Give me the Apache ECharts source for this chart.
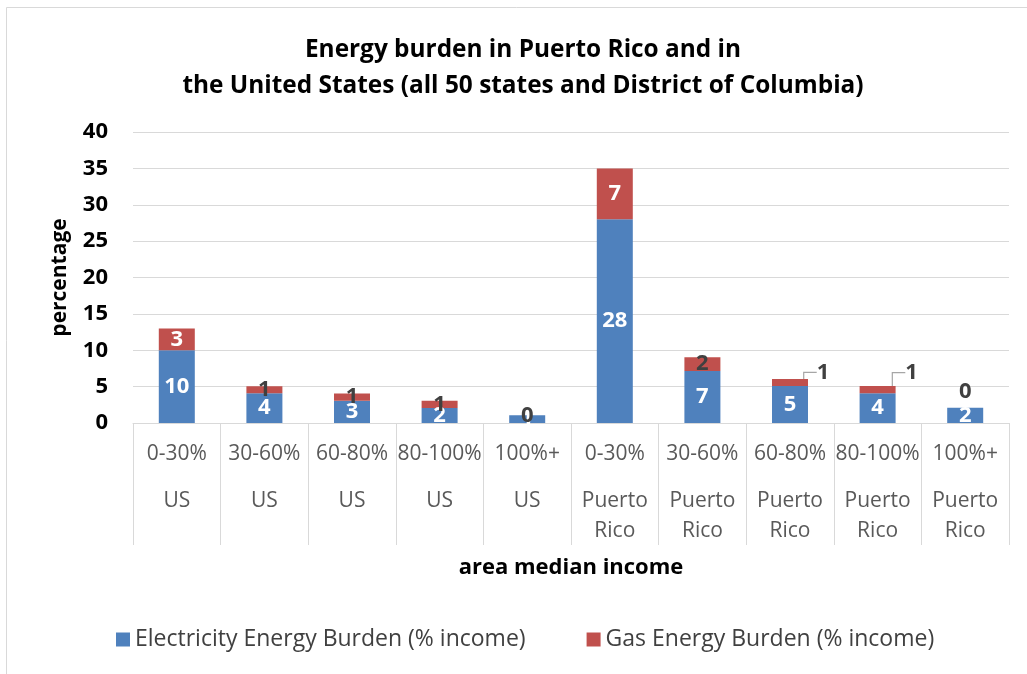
<!DOCTYPE html>
<html>
<head>
<meta charset="utf-8">
<script src="https://cdn.jsdelivr.net/npm/echarts@6/dist/echarts.min.js"></script>
<style>
html,body{margin:0;padding:0;background:#fff;}
#chart{width:1027px;height:674px;}
</style>
</head>
<body>
<div id="chart"></div>
<script>
// ---- data ----
const incomeBands = ['0-30%', '30-60%', '60-80%', '80-100%', '100%+', '0-30%', '30-60%', '60-80%', '80-100%', '100%+'];
const regions = ['US', 'US', 'US', 'US', 'US', 'Puerto Rico', 'Puerto Rico', 'Puerto Rico', 'Puerto Rico', 'Puerto Rico'];
const electricity = [10.0, 4.1, 3.05, 2.05, 1.05, 28.0, 7.15, 5.1, 4.1, 2.1];
const gas = [3.0, 0.95, 1.0, 1.0, 0.0, 7.0, 1.9, 0.95, 1.0, 0.0];
const seriesNames = ['Electricity Energy Burden (% income)', 'Gas Energy Burden (% income)'];
const yTicks = { min: 0, max: 40, interval: 5 };
const titleText = 'Energy burden in Puerto Rico and in\nthe United States (all 50 states and District of Columbia)';

const categories = incomeBands.map((b, i) => b + '|' + regions[i]);
const FONT = '"Open Sans", sans-serif';
const BLUE = '#4F81BD', RED = '#C0504D';

const chart = echarts.init(document.getElementById('chart'), null, { renderer: 'canvas' });

const gasData = gas.map((v, i) => {
  const item = { value: v };
  const whiteInside = v >= 2.5;
  item.label = { color: whiteInside ? '#ffffff' : '#404040' };
  if (i === 9) {
    item.label.position = 'top';
    item.label.offset = [11, 0];
  }
  if (i === 7 || i === 8) {
    item.labelLine = { show: true, length2: 13, lineStyle: { color: '#a6a6a6', width: 1.2 } };
  }
  return item;
});

chart.setOption({
  animation: false,
  backgroundColor: '#ffffff',
  title: {
    text: titleText,
    left: 518,
    top: 27,
    textAlign: 'center',
    textStyle: { fontFamily: FONT, fontSize: 24.4, fontWeight: 'bold', color: '#000000', lineHeight: 36 }
  },
  legend: {
    left: 111,
    top: 623,
    icon: 'rect',
    itemWidth: 14,
    itemHeight: 14,
    itemGap: 61,
    textStyle: { fontFamily: FONT, fontSize: 23, color: '#404040' },
    data: seriesNames
  },
  grid: { left: 133, right: 18, top: 132, bottom: 251, containLabel: false },
  xAxis: {
    type: 'category',
    data: categories,
    name: 'area median income',
    nameLocation: 'middle',
    nameGap: 134,
    nameTextStyle: { fontFamily: FONT, fontSize: 22, fontWeight: 'bold', color: '#000000' },
    axisLine: { lineStyle: { color: '#d9d9d9', width: 1 } },
    axisTick: { show: true, interval: 0, length: 122, alignWithLabel: false, lineStyle: { color: '#d9d9d9', width: 1 } },
    axisLabel: {
      interval: 0,
      margin: 16,
      color: '#595959',
      fontFamily: FONT,
      fontSize: 21,
      formatter: function (v) {
        const parts = v.split('|');
        const reg = parts[1].split(' ');
        return '{t|' + parts[0] + '}\n{s| }\n' + reg.map(r => '{t|' + r + '}').join('\n');
      },
      rich: {
        t: { fontFamily: FONT, fontSize: 21, color: '#595959', lineHeight: 30 },
        s: { fontSize: 10, lineHeight: 17 }
      }
    }
  },
  yAxis: {
    type: 'value',
    min: yTicks.min,
    max: yTicks.max,
    interval: yTicks.interval,
    name: 'percentage',
    nameLocation: 'middle',
    nameGap: 62,
    nameTextStyle: { fontFamily: FONT, fontSize: 21, fontWeight: 'bold', color: '#000000' },
    axisLine: { show: false },
    axisTick: { show: false },
    axisLabel: { margin: 25, fontFamily: FONT, fontSize: 22, fontWeight: 'bold', color: '#000000' },
    splitLine: { lineStyle: { color: '#d9d9d9', width: 1 } }
  },
  series: [
    {
      name: seriesNames[0],
      type: 'bar',
      stack: 'burden',
      barWidth: 36,
      itemStyle: { color: BLUE },
      label: {
        show: true,
        position: 'inside',
        color: '#ffffff',
        fontFamily: FONT,
        fontSize: 22,
        fontWeight: 'bold',
        formatter: p => Math.round(p.value)
      },
      data: electricity
    },
    {
      name: seriesNames[1],
      type: 'bar',
      stack: 'burden',
      barWidth: 36,
      itemStyle: { color: RED },
      label: {
        show: true,
        position: 'inside',
        fontFamily: FONT,
        fontSize: 22,
        fontWeight: 'bold',
        formatter: p => Math.round(p.value)
      },
      labelLayout: function (params) {
        if (params.dataIndex === 7) return { dx: 33, dy: -10 };
        if (params.dataIndex === 8) return { dx: 34, dy: -17 };
        return {};
      },
      data: gasData
    }
  ],
  graphic: [
    { type: 'line', shape: { x1: 6.5, y1: 7.5, x2: 1027, y2: 7.5 }, style: { stroke: '#d9d9d9', lineWidth: 1 } },
    { type: 'line', shape: { x1: 6.5, y1: 7.5, x2: 6.5, y2: 674 }, style: { stroke: '#d9d9d9', lineWidth: 1 } }
  ]
});
</script>
</body>
</html>
